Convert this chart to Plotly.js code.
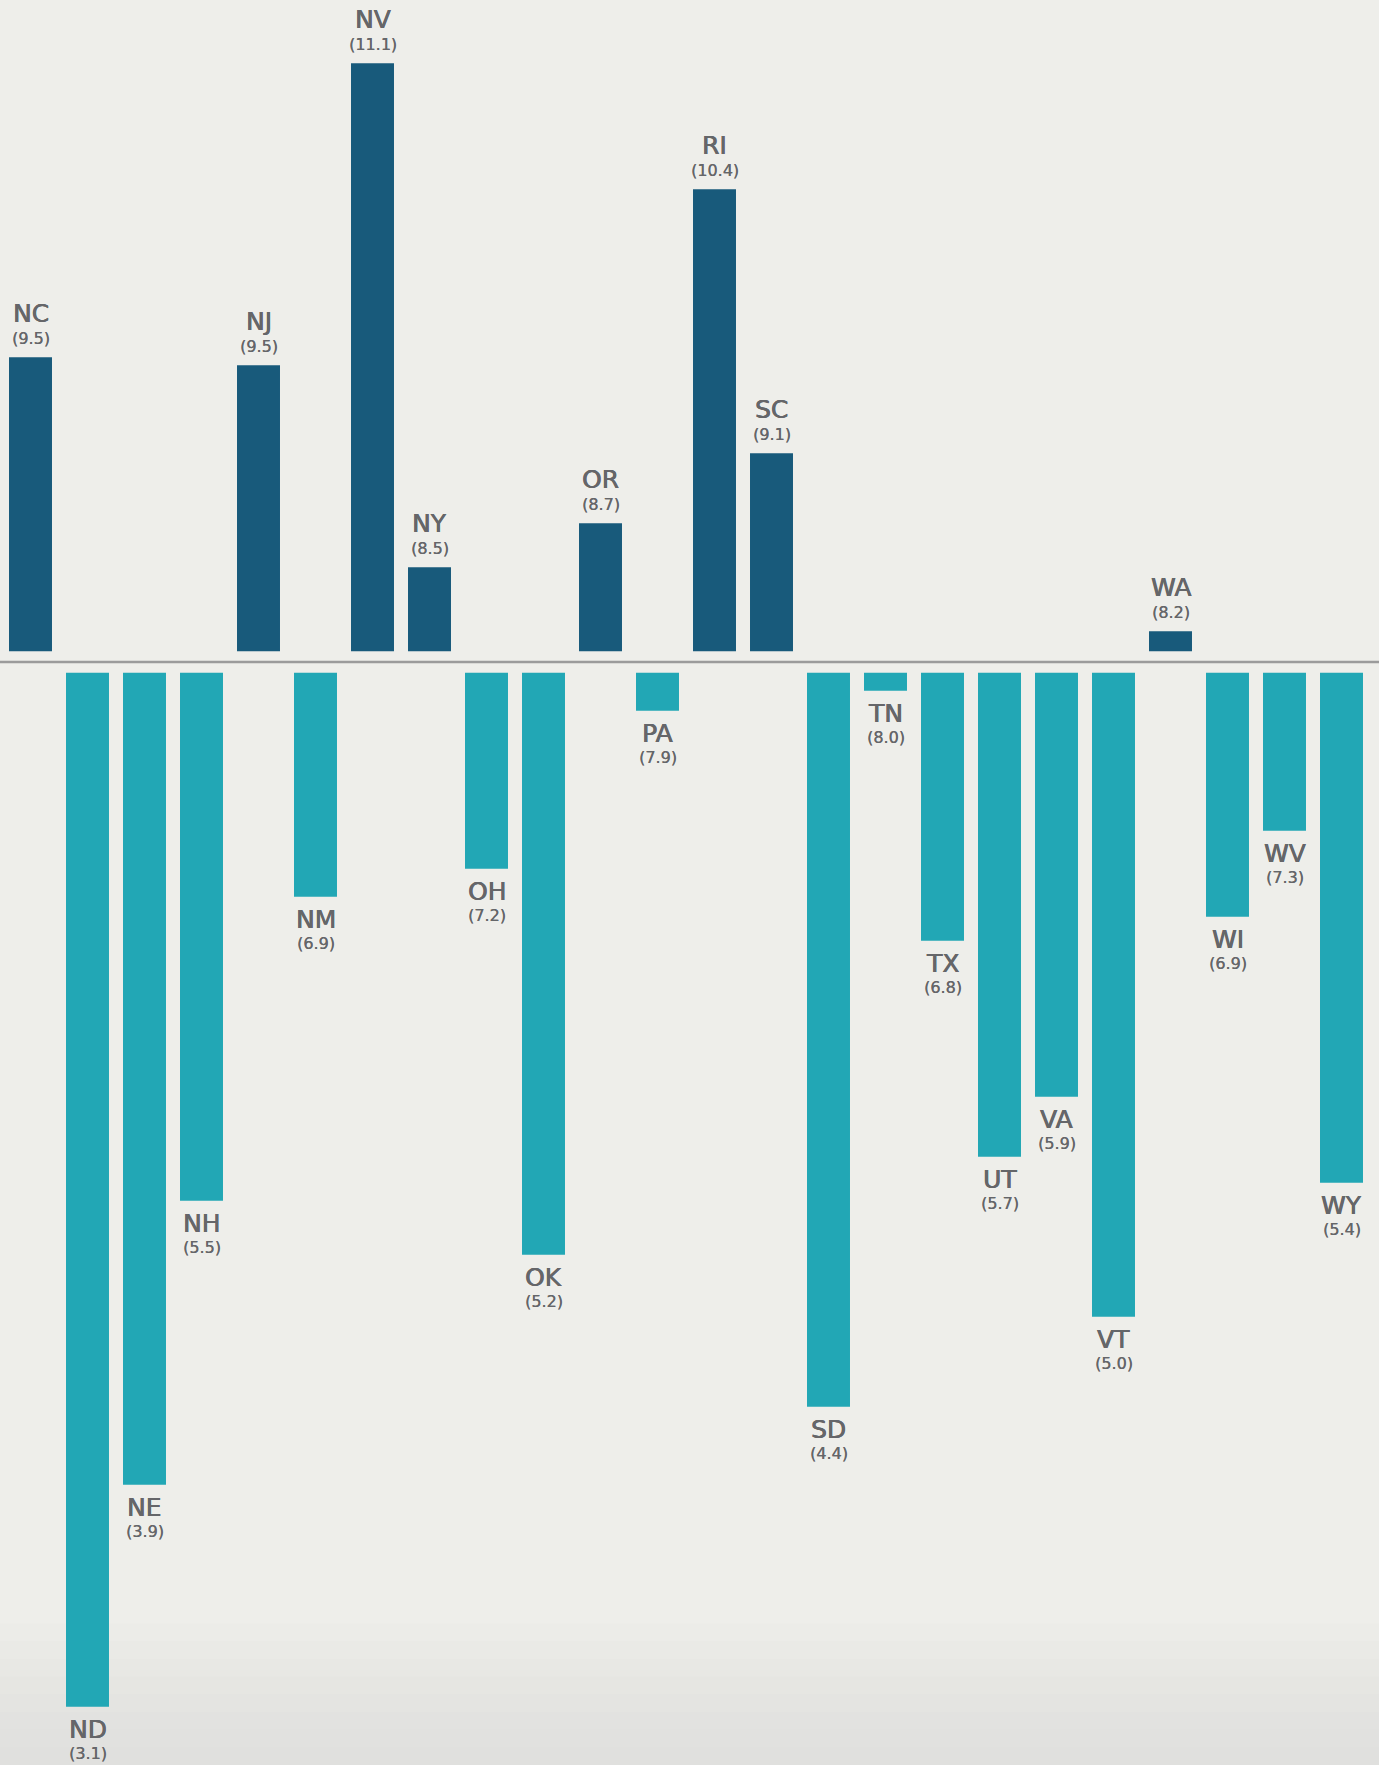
<!DOCTYPE html>
<html>
<head>
<meta charset="utf-8">
<script src="https://cdn.plot.ly/plotly-3.0.1.min.js"></script>
<style>
  html, body { margin: 0; padding: 0; background: #eeeeea; }
  #chart { width: 1379px; height: 1765px; }
</style>
</head>
<body>
<div id="chart"></div>
<script>
// States in chart order
const states = ['NC','ND','NE','NH','NJ','NM','NV','NY','OH','OK','OR','PA','RI','SC','SD','TN','TX','UT','VA','VT','WA','WI','WV','WY'];
// Unemployment rate shown in parentheses (%)
const rates = [9.5, 3.1, 3.9, 5.5, 9.5, 6.9, 11.1, 8.5, 7.2, 5.2, 8.7, 7.9, 10.4, 9.1, 4.4, 8.0, 6.8, 5.7, 5.9, 5.0, 8.2, 6.9, 7.3, 5.4];
// Bar length: gap from the national rate (percentage points)
const gapFromUS = [1.47, -5.17, -4.06, -2.64, 1.43, -1.12, 2.94, 0.42, -0.98, -2.91, 0.64, -0.19, 2.31, 0.99, -3.67, -0.09, -1.34, -2.42, -2.12, -3.22, 0.10, -1.22, -0.79, -2.55];

const BASE_GAP = 0.054;
const DARK = '#185a7b';
const TEAL = '#22a7b5';
const TEXT = '#656669';
const FONT = 'DejaVu Sans, Open Sans, sans-serif';

const upX = [], upY = [], downX = [], downY = [];
states.forEach((s, i) => {
  if (gapFromUS[i] >= 0) { upX.push(s); upY.push(gapFromUS[i]); }
  else { downX.push(s); downY.push(gapFromUS[i]); }
});

const traces = [
  { type: 'bar', x: upX, y: upY, base: BASE_GAP, width: 0.754,
    marker: { color: DARK }, hoverinfo: 'skip' },
  { type: 'bar', x: downX, y: downY, base: -BASE_GAP, width: 0.754,
    marker: { color: TEAL }, hoverinfo: 'skip' }
];

const annotations = [];
states.forEach((s, i) => {
  const g = gapFromUS[i];
  const up = g >= 0;
  const end = up ? BASE_GAP + g : -BASE_GAP + g;
  annotations.push({
    x: s, y: end, xref: 'x', yref: 'y', text: s, showarrow: false,
    xanchor: 'center', yanchor: 'middle', yshift: up ? 44 : -23,
    font: { family: FONT, size: 25, color: TEXT,
            shadow: '0.4px 0 0 #656669, -0.2px 0 0 #656669' }
  });
  annotations.push({
    x: s, y: end, xref: 'x', yref: 'y', text: '(' + rates[i].toFixed(1) + ')', showarrow: false,
    xanchor: 'center', yanchor: 'middle', yshift: up ? 19 : -47,
    font: { family: FONT, size: 16, color: TEXT,
            shadow: '0.2px 0 0 #656669' }
  });
});

// soft darkening toward the bottom edge (background only)
const bgShapes = [];
for (let k = 0; k < 8; k++) {
  bgShapes.push({ type: 'rect', xref: 'paper', yref: 'paper', x0: -0.01, x1: 1.01,
    y0: -0.01, y1: 0.08 - k * 0.01, fillcolor: '#d4d4d0', opacity: 0.07,
    line: { width: 0 }, layer: 'below' });
}

const layout = {
  width: 1379, height: 1765,
  margin: { l: 2, r: 9, t: 0, b: 0, pad: 0 },
  paper_bgcolor: '#eeeeea',
  plot_bgcolor: 'rgba(0,0,0,0)',
  showlegend: false,
  barmode: 'overlay',
  xaxis: { type: 'category', categoryorder: 'array', categoryarray: states,
           range: [-0.5, 23.5], showticklabels: false, showgrid: false,
           zeroline: false, showline: false, ticks: '' },
  yaxis: { range: [-5.515, 3.31], showticklabels: false, showgrid: false,
           zeroline: false, showline: false, ticks: '' },
  shapes: bgShapes.concat([
    { type: 'line', xref: 'paper', yref: 'y', x0: -0.01, x1: 1.01, y0: 0, y1: 0,
      line: { color: '#9b9b9b', width: 2.5 } }
  ]),
  annotations: annotations
};

Plotly.newPlot('chart', traces, layout, { staticPlot: true, displayModeBar: false });
</script>
</body>
</html>
